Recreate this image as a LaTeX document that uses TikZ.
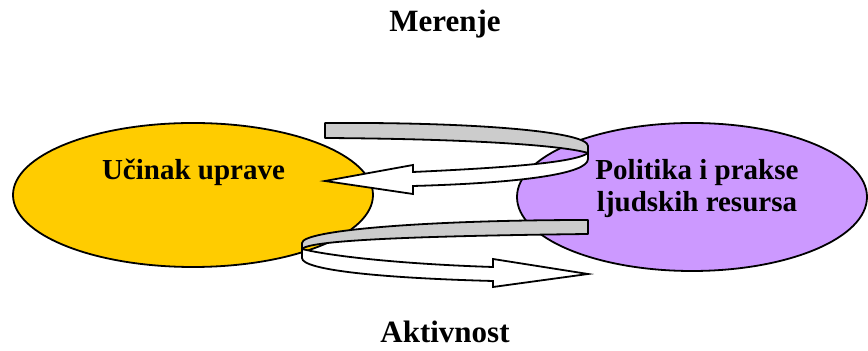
\documentclass[tikz,border=0pt]{standalone}
\usepackage{fontspec}
\setmainfont{Liberation Serif}
\usetikzlibrary{shapes.geometric}
\definecolor{yel}{RGB}{255,204,0}
\definecolor{lila}{RGB}{204,153,255}
\definecolor{band}{RGB}{204,204,204}
\begin{document}
\begin{tikzpicture}[x=0.5pt,y=-0.5pt,
  oval/.style={ellipse, draw=black, line width=0.9pt, inner sep=0pt},
  lbl/.style={font=\fontsize{15.5pt}{18pt}\selectfont\bfseries, anchor=base, inner sep=0pt},
  txt/.style={font=\fontsize{14.5pt}{16pt}\selectfont\bfseries, anchor=base, align=center, inner sep=0pt},
  backband/.style={draw=black, fill=band, line width=0.9pt, line join=round},
  frontband/.style={draw=black, fill=white, line width=0.9pt, line join=miter}]
\useasboundingbox (0,0) rectangle (868,351);
% ellipses
\node[oval, fill=yel, minimum width=180pt, minimum height=72pt] (uprava) at (193,195) {};
\node[oval, fill=lila, minimum width=175pt, minimum height=74pt] (politika) at (692,197) {};
% upper arrow (Merenje)
\path[backband] (325,123) .. controls (480,122) and (588,132) .. (588,146)
  -- (588,153) .. controls (565,146) and (480,139) .. (325,138) -- cycle;
\path[frontband] (588,153) .. controls (575,163) and (500,168) .. (413,172)
  -- (413,165) -- (325,181) -- (413,194) -- (413,186)
  .. controls (520,183) and (588,174) .. (588,159) -- cycle;
% lower arrow (Aktivnost)
\path[backband] (588,220) .. controls (430,220) and (302,230) .. (302,243)
  -- (302,249) .. controls (310,240) and (420,236) .. (588,234) -- cycle;
\path[frontband] (302,249) .. controls (330,256) and (400,264) .. (493,267)
  -- (493,259) -- (588,274) -- (493,287) -- (493,281)
  .. controls (380,278) and (302,270) .. (302,258) -- cycle;
% texts
\node[txt] (tuprava) at (193.5,180) {Učinak uprave};
\node[txt] (tpolitika) at (697,212) {Politika i prakse\\ljudskih resursa};
\node[lbl] (merenje) at (445,32) {Merenje};
\node[lbl] (aktivnost) at (445,343) {Aktivnost};
\end{tikzpicture}
\end{document}
